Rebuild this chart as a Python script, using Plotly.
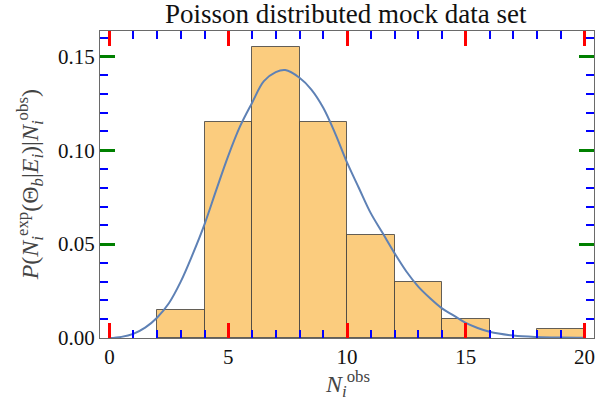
import plotly.graph_objects as go

# Histogram (density) of mock data: bin edges of width 2
bin_left = [2, 4, 6, 8, 10, 12, 14, 18]
bin_width = 2
bin_density = [0.015, 0.115, 0.155, 0.115, 0.055, 0.03, 0.01, 0.005]

# Smooth expected distribution curve
curve_x = [0, 0.5, 1, 1.5, 2, 2.5, 3, 3.5, 4, 4.5, 5, 5.5, 6, 6.5, 7, 7.4, 8, 8.5, 9, 9.5,
           10, 10.5, 11, 11.5, 12, 12.5, 13, 13.5, 14, 14.5, 15, 15.5, 16, 17, 18, 19, 20]
curve_y = [0.0, 0.0006, 0.0022, 0.0055, 0.0108, 0.0185, 0.0300, 0.0445, 0.0605, 0.079, 0.097,
           0.1128, 0.1252, 0.1368, 0.1416, 0.1427, 0.1386, 0.1323, 0.1226, 0.109,
           0.0935, 0.0799, 0.0665, 0.0559, 0.0452, 0.0354, 0.0274, 0.0212, 0.0158, 0.0119,
           0.0080, 0.0053, 0.0033, 0.0013, 0.0005, 0.0002, 0.0001]

x_major_step, x_minor_step = 5, 1
y_major_step, y_minor_step = 0.05, 0.01

title_text = "Poisson distributed mock data set"
x_title = "<i>N</i><sub><i>i</i></sub><sup>obs</sup>"
y_title = ("<i>P</i>(<i>N</i><sub><i>i</i></sub><sup>exp</sup>(Θ<sub><i>b</i></sub>|"
           "<i>E</i><sub><i>i</i></sub>)|<i>N</i><sub><i>i</i></sub><sup>obs</sup>)")

centers = [b + bin_width / 2 for b in bin_left]

fig = go.Figure()
fig.add_trace(go.Bar(
    x=centers, y=bin_density, width=bin_width,
    marker=dict(color="#FBCC7E", line=dict(color="rgba(60,60,60,0.8)", width=1)),
    showlegend=False, hoverinfo="skip",
))
fig.add_trace(go.Scatter(
    x=curve_x, y=curve_y, mode="lines",
    line=dict(color="#5E81B5", width=2, shape="spline", smoothing=1.0),
    showlegend=False, hoverinfo="skip",
))

tick_col = "red"
frame_col = "#6a6a6a"
serif = "Liberation Serif"

fig.update_layout(
    template="none",
    width=597, height=414,
    margin=dict(l=100, r=3, t=31, b=76),
    bargap=0,
    font=dict(family=serif, size=20, color="#111"),
    title=dict(text=title_text, x=0.579, xanchor="center", y=0.968, yanchor="middle",
               font=dict(family=serif, size=27, color="#111")),
    xaxis=dict(
        range=[-0.4, 20.4], ticks="inside", ticklen=15, tickwidth=3, tickcolor=tick_col,
        showline=True, linecolor=frame_col, mirror="ticks", showgrid=False,
        minor=dict(dtick=x_minor_step, ticks="inside", ticklen=8, tickwidth=2, tickcolor="blue"),
        tickfont=dict(family=serif, size=21, color="#111"),
    ),
    yaxis=dict(
        range=[0, 0.1635], dtick=y_major_step, tickformat=".2f",
        ticks="inside", ticklen=15, tickwidth=3, tickcolor="green",
        showline=True, linecolor=frame_col, mirror="ticks", showgrid=False,
        minor=dict(dtick=y_minor_step, ticks="inside", ticklen=8, tickwidth=2, tickcolor="blue"),
        tickfont=dict(family=serif, size=21, color="#111"),
    ),
    annotations=[
        dict(text=x_title, xref="paper", yref="paper", x=0.5, y=-0.15, xanchor="center",
             yanchor="middle", showarrow=False, font=dict(family=serif, size=24, color="#444")),
        dict(text=y_title, xref="paper", yref="paper", x=-0.142, y=0.5, xanchor="center",
             yanchor="middle", textangle=-90, showarrow=False,
             font=dict(family=serif, size=24, color="#444")),
    ],
)

fig.write_html("out.html")
